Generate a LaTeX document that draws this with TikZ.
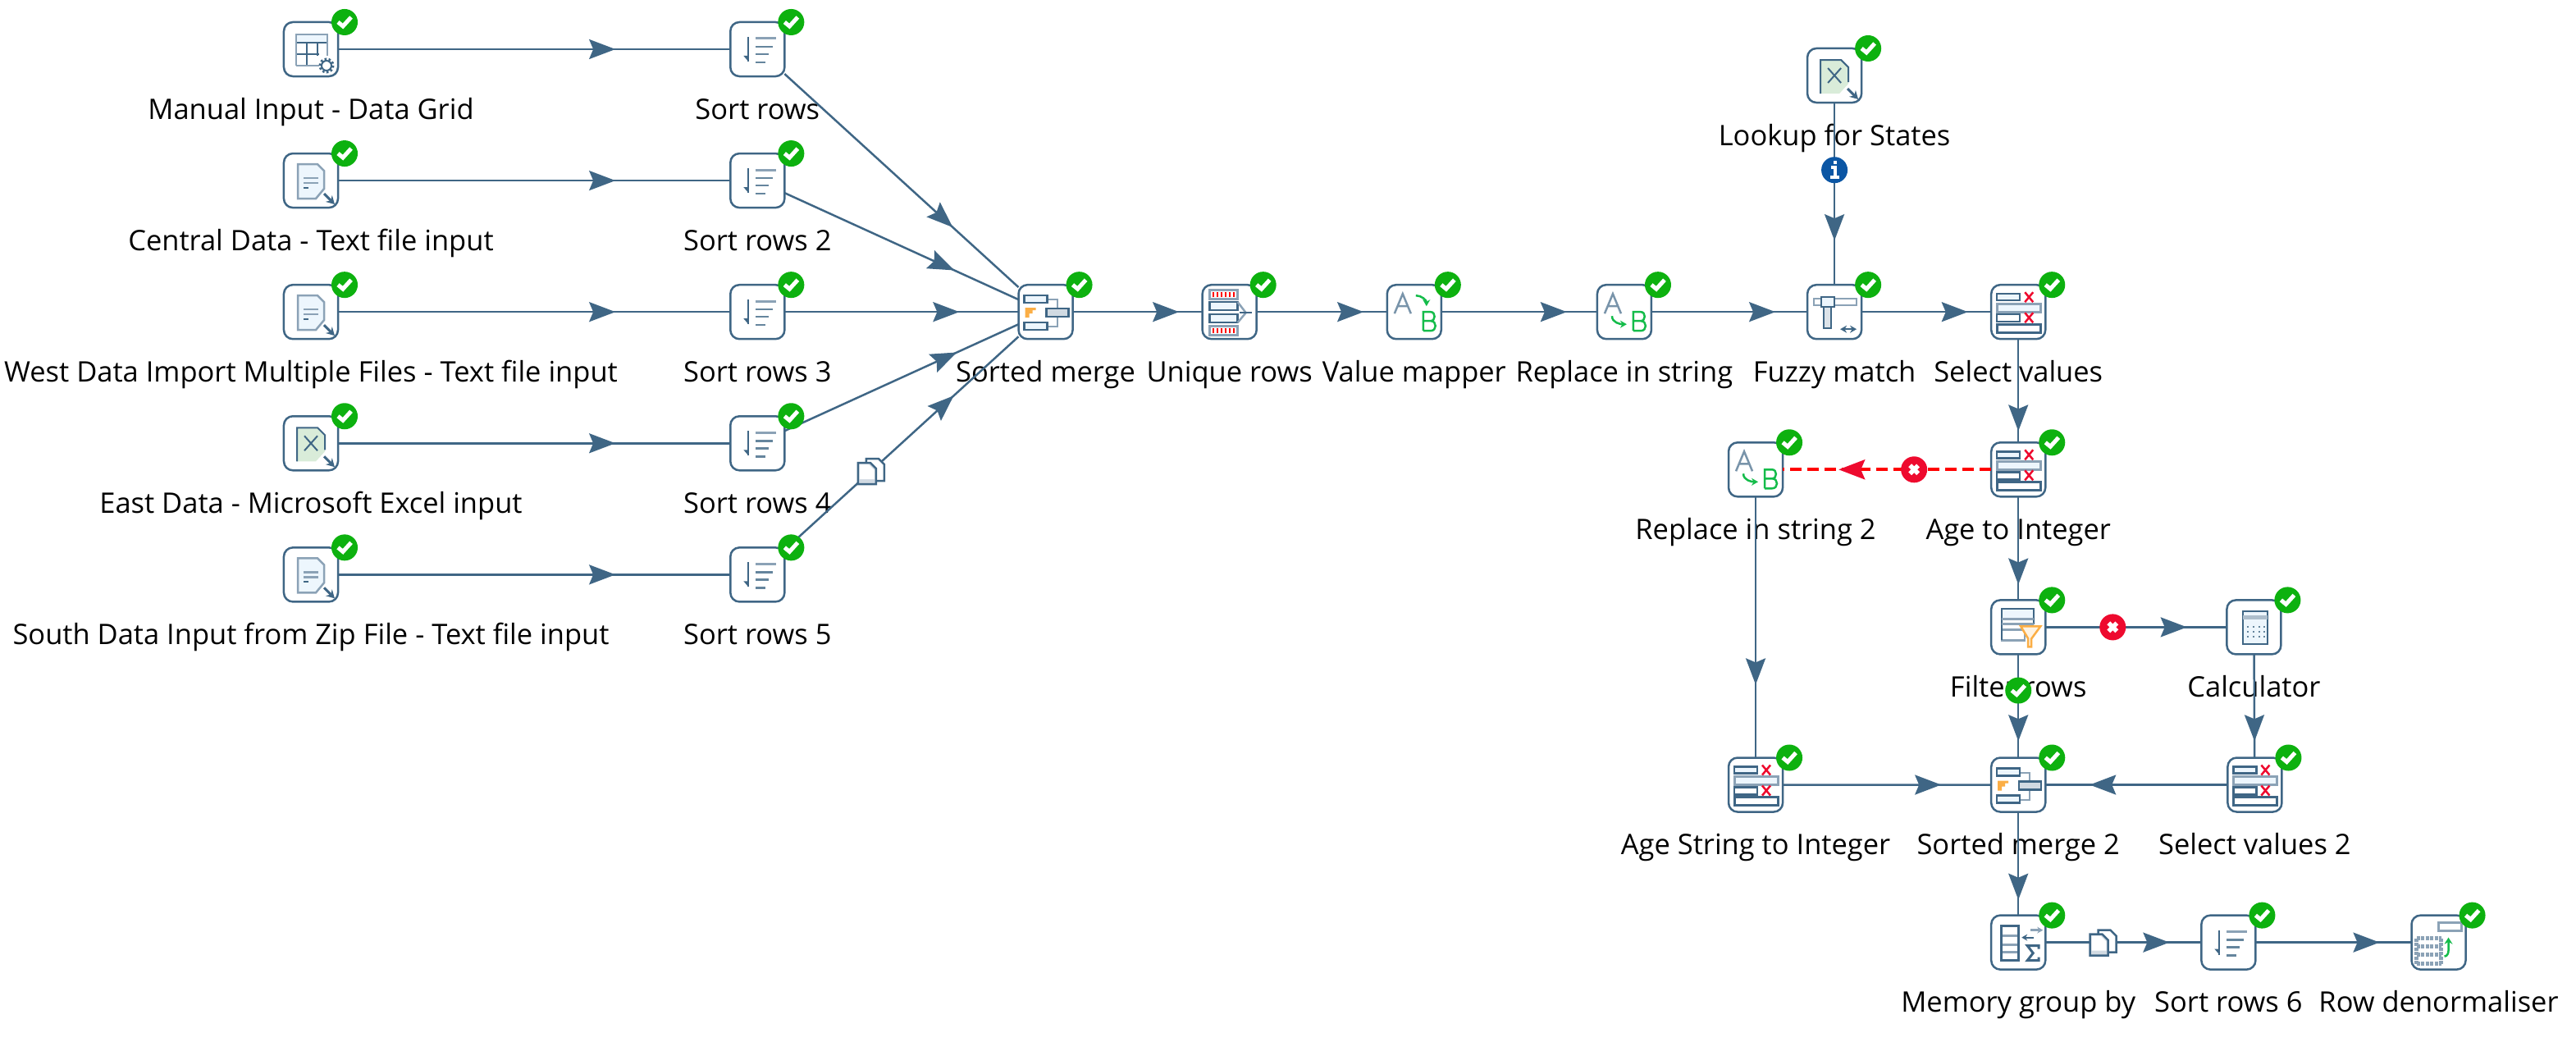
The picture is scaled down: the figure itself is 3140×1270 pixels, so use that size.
\documentclass[tikz,border=0pt]{standalone}
\usepackage{fontspec}
\setmainfont{Open Sans}
\usetikzlibrary{positioning,arrows.meta,decorations.markings}
\definecolor{hopblue}{HTML}{3F6685}
\definecolor{softblue}{HTML}{8BA2B6}
\definecolor{paleblue}{HTML}{EDF6FD}
\definecolor{okgreen}{HTML}{0DB10F}
\definecolor{abgreen}{HTML}{14BC4A}
\definecolor{badred}{HTML}{EE0A2E}
\definecolor{infoblue}{HTML}{0B56A4}
\definecolor{softorange}{HTML}{FBAE45}

\tikzset{
    stepbox/.style={shape=rectangle,draw=hopblue,fill=white,line width=.025cm,rounded corners=.11cm,minimum size=.66cm,inner sep=0pt,outer sep=0pt},
    steptext/.style={anchor=base,inner sep=0pt,font=\fontsize{9.8pt}{11pt}\selectfont},
    flow/.style={draw=hopblue,line width=.025cm,postaction={decorate},decoration={markings,mark=at position #1 with {\arrow{Stealth[length=.32cm,width=.24cm,inset=.05cm]}}}},
    flow/.default=.8,
    flowbad/.style={draw=red,line width=.04cm,dash pattern=on .14cm off .07cm,postaction={decorate},decoration={markings,mark=at position #1 with {\arrow[badred]{Stealth[length=.32cm,width=.24cm,inset=.05cm]}}}},
    okbadge/.style={shape=circle,fill=okgreen,minimum size=.32cm,inner sep=0pt,path picture={\draw[white,line width=.05cm,shift={(path picture bounding box.center)}] (-8,0) -- (-2,5) -- (8,-6);}},
    badbadge/.style={shape=circle,fill=badred,minimum size=.32cm,inner sep=0pt,path picture={\draw[white,line width=.055cm,shift={(path picture bounding box.center)}] (-5,-5) -- (5,5) (-5,5) -- (5,-5);}},
    infobadge/.style={shape=circle,fill=infoblue,minimum size=.32cm,inner sep=0pt,path picture={\draw[white,line width=.035cm,shift={(path picture bounding box.center)}] (-4,-3) -- (1,-3) -- (1,8) (-5,9) -- (6,9) (1,-11) -- (1,-7);}},
    ln/.style={draw=hopblue,line width=.02cm},
    lt/.style={draw=softblue,line width=.025cm},
    gr/.style={draw=abgreen,line width=.025cm},
    corner/.pic={\draw[ln,-{Stealth[length=.1cm,width=.11cm]},line width=.03cm] (16,16) -- (29,29);},
    gridicon/.pic={\fill[paleblue] (-18,-18) rectangle (20,-8);
        \draw[ln] (-18,-8) -- (20,-8) (-5,-8) -- (-5,20) (8,-8) -- (8,8) (-18,6) -- (10,6);
        \draw[lt] (-18,20) |- (20,-18) -- (20,8) (-18,20) -- (10,20);
        \draw[ln,fill=white] (19,20) circle (6);
        \draw[hopblue,line width=.03cm,dash pattern=on .025cm off .025cm] (19,20) circle (8);},
    fileicon/.pic={\draw[lt,fill=paleblue] (-16,22) -- (-16,-20) -- (8,-20) -- (16,-12) -- (16,10) -- (6,22) -- cycle;
        \draw[lt] (-9,-3) -- (9,-3) (-9,3) -- (9,3);
        \draw[ln] (-9,9) -- (-3,9);
        \pic {corner};},
    excelicon/.pic={\fill[green!50!black!15] (-17,22) -- (-17,-19) -- (8,-19) -- (17,-10) -- (17,10) -- (6,22) -- cycle;
        \draw[ln] (-17,22) -- (-17,-19) -- (8,-19) -- (17,-10) -- (17,8);
        \draw[ln] (-8,-9) -- (8,9) (-8,9) -- (8,-9);
        \pic {corner};},
    sorticon/.pic={\draw[ln] (-11,-15) -- (-11,15);
        \fill[hopblue] (-11,15) -- (-17,8) -- (-11,8) -- cycle;
        \draw[lt,line width=.03cm] (-2,-13) -- (23,-13);
        \draw[hopblue!80,line width=.025cm] (-2,-3) -- (19,-3) (-2,6) -- (14,6) (-2,16) -- (10,16);},
    mergeicon/.pic={\draw[lt,line width=.02cm] (2,-15) -- (14,-15) -- (14,18) -- (2,18);
        \draw[ln,line width=.025cm,fill=paleblue] (-26,-20) rectangle (2,-11) (-26,13) rectangle (2,22);
        \draw[ln,line width=.025cm,fill=softblue!40] (1,-4) rectangle (28,6);
        \fill[softorange] (-25,-5) -- (-12,-5) -- (-12,-2) -- (-16,-2) -- (-16,2) -- (-20,2) -- (-20,7) -- (-25,7) -- cycle;},
    uniqueicon/.pic={\draw[draw=softblue,line width=.03cm,fill=white] (-24,-27) rectangle (10,-16) (-24,17) rectangle (10,28);
        \draw[red,line width=.06cm,dash pattern=on .025cm off .025cm] (-21,-21.5) -- (8,-21.5) (-21,22.5) -- (8,22.5);
        \draw[ln,line width=.025cm,fill=paleblue] (-24,-12) rectangle (10,-2) (-24,3) rectangle (10,13);
        \draw[lt] (10,-12) -- (20,1) -- (10,13);
        \draw[ln] (12,1) -- (27,1);},
    letterA/.pic={\draw[hopblue!70,line width=.025cm] (-24,2) -- (-14,-22) -- (-4,2) (-20,-7) -- (-8,-7);},
    letterB/.pic={\draw[gr] (11,23) -- (11,0) -- (20,0) to[out=0,in=0,looseness=1.5] (20,11) -- (11,11) (20,11) to[out=0,in=0,looseness=1.7] (20,23) -- (11,23);},
    mapicon/.pic={\pic {letterA}; \pic {letterB};
        \draw[gr,-{Stealth[length=.08cm,width=.09cm]}] (2,-20) to[out=0,in=90] (15,-7);},
    replaceicon/.pic={\pic {letterA}; \pic {letterB};
        \draw[gr,-{Stealth[length=.08cm,width=.09cm]}] (-15,5) to[out=-90,in=180] (3,15);},
    fuzzyicon/.pic={\draw[draw=softblue,line width=.025cm,fill=white] (-25,-16) rectangle (27,-8);
        \draw[ln,fill=softblue!30] (-13,-7) rectangle (-4,20);
        \draw[ln,fill=paleblue] (-16,-18) rectangle (0,-6);
        \draw[ln,{Stealth[length=.08cm,width=.09cm]}-{Stealth[length=.08cm,width=.09cm]}] (7,21) -- (27,21);},
    selecticon/.pic={\fill[softblue] (-26,-10) rectangle (-12,12);
        \draw[ln,line width=.025cm,fill=paleblue] (-26,-22) rectangle (2,-14);
        \draw[draw=softblue,line width=.03cm,fill=paleblue] (-26,-10) rectangle (27,0);
        \draw[ln,line width=.025cm,fill=white] (-26,3) rectangle (2,12);
        \draw[ln,line width=.03cm,fill=white] (-26,15) rectangle (27,25);
        \draw[badred,line width=.025cm] (8,-24) -- (18,-12) (8,-12) -- (18,-24) (8,1) -- (18,13) (8,13) -- (18,1);},
    filtericon/.pic={\fill[paleblue] (-20,-22) rectangle (19,-10);
        \draw[lt,fill=white] (-20,3) rectangle (8,16);
        \draw[ln] (-20,16) |- (19,-22) -- (19,-3);
        \draw[lt] (-20,-10) -- (19,-10) (-20,-4) -- (19,-4);
        \draw[draw=softorange,line width=.025cm,fill=softorange!15] (3,-1) -- (12,14) -- (12,24) -- (16,24) -- (16,14) -- (27,-1) -- cycle;},
    calcicon/.pic={\fill[paleblue] (-13,-19) rectangle (17,21);
        \draw[ln] (-13,21) -- (-13,-19) -- (17,-19) -- (17,21) -- cycle;
        \fill[softblue!70] (-13,-14) rectangle (17,-9);
        \foreach \row in {0,6,12} \foreach \col in {-7,0,7,13} \fill[hopblue!80] (\col-1,\row-1) rectangle (\col+1,\row+1);},
    groupicon/.pic={\draw[lt,line width=.03cm] (-21,-8) -- (0,-8) (-21,3) -- (0,3) (-21,12) -- (0,12);
        \draw[ln,line width=.03cm] (-21,-20) rectangle (0,22);
        \draw[ln,-{Stealth[length=.07cm,width=.08cm]}] (19,-6) -- (4,-6);
        \draw[lt,-{Stealth[length=.07cm,width=.08cm]}] (15,-15) -- (30,-15);
        \draw[ln,line width=.03cm] (25,8) -- (25,4) -- (11,4) -- (18,13) -- (11,22) -- (25,22) -- (25,18);},
    denormicon/.pic={\draw[softblue,line width=.03cm,fill=white] (0,-24) rectangle (28,-14);
        \draw[softblue,line width=.05cm,dash pattern=on .04cm off .015cm] (-27,-5) -- (3,-5) (-27,5) -- (3,5) (-27,15) -- (3,15) (-27,26) -- (3,26) (-27,-5) -- (-27,26) (3,-5) -- (3,26);
        \draw[gr,-{Stealth[length=.08cm,width=.1cm]}] (7,17) to[out=0,in=-90] (12,10) -- (12,-6);},
    copyicon/.pic={\draw[ln,line width=.025cm,fill=white] (-6,12) -- (-6,-15) -- (9,-15) -- (16,-8) -- (16,12) -- cycle;
        \draw[ln,line width=.025cm,fill=softblue!40] (-16,16) -- (-16,-10) -- (-1,-10) -- (6,-3) -- (6,16) -- cycle;
        \fill[white] (-14,-8) -- (-3,-8) -- (4,-1) -- (4,10) -- (-14,10) -- cycle;},
}

% box, icon and name of one step
\newcommand{\stepdone}[3]{
    \pic at (#1) {#2};
    \node[steptext] (#1-text) at ([yshift=-.85cm]#1.center) {#3};
}

\begin{document}
\begin{tikzpicture}[x=.01cm,y=-.01cm]
    \useasboundingbox (0,0) rectangle (3140,1270);

    \node [stepbox] (grid) at (379,60) {};
    \node [stepbox,below=.94cm of grid] (central) {};
    \node [stepbox,below=.94cm of central] (west) {};
    \node [stepbox,below=.94cm of west] (east) {};
    \node [stepbox,below=.94cm of east] (south) {};
    \node [stepbox,right=4.78cm of grid] (sort1) {};
    \node [stepbox,right=4.78cm of central] (sort2) {};
    \node [stepbox,right=4.78cm of west] (sort3) {};
    \node [stepbox,right=4.78cm of east] (sort4) {};
    \node [stepbox,right=4.78cm of south] (sort5) {};
    \node [stepbox,right=2.85cm of sort3] (merge) {};
    \node [stepbox,right=1.58cm of merge] (unique) {};
    \node [stepbox,right=1.59cm of unique] (mapper) {};
    \node [stepbox,right=1.90cm of mapper] (replace) {};
    \node [stepbox,right=1.90cm of replace] (fuzzy) {};
    \node [stepbox,above=2.22cm of fuzzy] (lookup) {};
    \node [stepbox,right=1.58cm of fuzzy] (select) {};
    \node [stepbox,below=1.26cm of select] (age) {};
    \node [stepbox,left=2.54cm of age] (replacetwo) {};
    \node [stepbox,below=1.26cm of age] (filter) {};
    \node [stepbox,right=2.21cm of filter] (calc) {};
    \node [stepbox,below=1.26cm of filter] (mergetwo) {};
    \node [stepbox,right=2.22cm of mergetwo] (selecttwo) {};
    \node [stepbox,below=3.18cm of replacetwo] (agestring) {};
    \node [stepbox,below=1.26cm of mergetwo] (memory) {};
    \node [stepbox,right=1.90cm of memory] (sort6) {};
    \node [stepbox,right=1.90cm of sort6] (denorm) {};

    \stepdone{grid}{gridicon}{Manual Input - Data Grid}
    \stepdone{central}{fileicon}{Central Data - Text file input}
    \stepdone{west}{fileicon}{West Data Import Multiple Files - Text file input}
    \stepdone{east}{excelicon}{East Data - Microsoft Excel input}
    \stepdone{south}{fileicon}{South Data Input from Zip File - Text file input}
    \stepdone{sort1}{sorticon}{Sort rows}
    \stepdone{sort2}{sorticon}{Sort rows 2}
    \stepdone{sort3}{sorticon}{Sort rows 3}
    \stepdone{sort4}{sorticon}{Sort rows 4}
    \stepdone{sort5}{sorticon}{Sort rows 5}
    \stepdone{merge}{mergeicon}{Sorted merge}
    \stepdone{unique}{uniqueicon}{Unique rows}
    \stepdone{mapper}{mapicon}{Value mapper}
    \stepdone{replace}{replaceicon}{Replace in string}
    \stepdone{fuzzy}{fuzzyicon}{Fuzzy match}
    \stepdone{lookup}{excelicon}{Lookup for States}
    \stepdone{select}{selecticon}{Select values}
    \stepdone{age}{selecticon}{Age to Integer}
    \stepdone{replacetwo}{replaceicon}{Replace in string 2}
    \stepdone{filter}{filtericon}{Filter rows}
    \stepdone{calc}{calcicon}{Calculator}
    \stepdone{mergetwo}{mergeicon}{Sorted merge 2}
    \stepdone{selecttwo}{selecticon}{Select values 2}
    \stepdone{agestring}{selecticon}{Age String to Integer}
    \stepdone{memory}{groupicon}{Memory group by}
    \stepdone{sort6}{sorticon}{Sort rows 6}
    \stepdone{denorm}{denormicon}{Row denormaliser}

    \draw[flow=.707] (grid) -- (sort1);
    \draw[flow=.707] (central) -- (sort2);
    \draw[flow=.707] (west) -- (sort3);
    \draw[flow=.707] (east) -- (sort4);
    \draw[flow=.707] (south) -- (sort5);
    \draw[flow=.72] (sort1) -- (merge);
    \draw[flow=.726] (sort2) -- (merge);
    \draw[flow=.747] (sort3) -- (merge);
    \draw[flow=.737] (sort4) -- (merge);
    \draw[flow=.724] (sort5) -- coordinate[pos=.37] (sorthop) (merge);
    \draw[flow=.82] (merge) -- (unique);
    \draw[flow=.82] (unique) -- (mapper);
    \draw[flow=.805] (mapper) -- (replace);
    \draw[flow=.795] (replace) -- (fuzzy);
    \draw[flow=.82] (fuzzy) -- (select);
    \draw[flow=.757] (lookup) -- node[infobadge,pos=.37] (lookhop) {} (fuzzy);
    \draw[flow=.89] (select) -- (age);
    \draw[flow=.85] (age) -- (filter);
    \draw[flowbad=.732] (age) -- node[badbadge,pos=.37] (agehop) {} (replacetwo);
    \draw[flow=.78] (filter) -- node[badbadge,pos=.371] (filterhop) {} (calc);
    \draw[flow=.84] (filter) -- node[okbadge,pos=.35] (passhop) {} (mergetwo);
    \draw[flow=.84] (calc) -- (selecttwo);
    \draw[flow=.72] (replacetwo) -- (agestring);
    \draw[flow=.76] (agestring) -- (mergetwo);
    \draw[flow=.757] (selecttwo) -- (mergetwo);
    \draw[flow=.85] (mergetwo) -- (memory);
    \draw[flow=.795] (memory) -- coordinate[pos=.37] (memoryhop) (sort6);
    \draw[flow=.795] (sort6) -- (denorm);

    \pic at (sorthop) {copyicon};
    \pic at (memoryhop) {copyicon};

    \foreach \stepname in {grid,central,west,east,south,sort1,sort2,sort3,sort4,sort5,merge,unique,mapper,replace,fuzzy,lookup,select,age,replacetwo,filter,calc,mergetwo,selecttwo,agestring,memory,sort6,denorm}
        \node [okbadge] (\stepname-ok) at ([xshift=.41cm,yshift=.33cm]\stepname.center) {};
\end{tikzpicture}
\end{document}
